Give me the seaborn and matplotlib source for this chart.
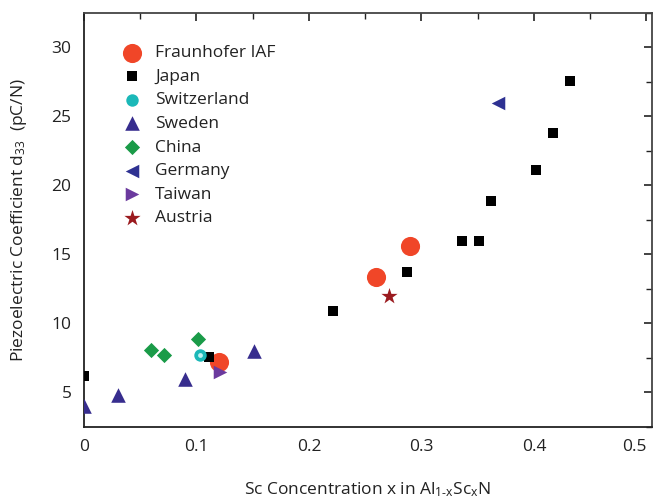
import matplotlib
matplotlib.use("Agg")
import matplotlib.pyplot as plt
import seaborn as sns
import pandas as pd
from matplotlib.ticker import MultipleLocator

sns.set_theme(style="white")
plt.rcParams['font.family'] = ['Open Sans', 'DejaVu Sans']
plt.rcParams['mathtext.default'] = 'regular'

# ---- data ----
fraunhofer_x = [0.120, 0.260, 0.290]
fraunhofer_y = [7.2, 13.35, 15.65]
japan_x = [0.0, 0.111, 0.221, 0.287, 0.336, 0.351, 0.362, 0.402, 0.417, 0.432]
japan_y = [6.2, 7.6, 10.9, 13.7, 16.0, 16.0, 18.9, 21.1, 23.8, 27.6]
switzerland_x = [0.103]
switzerland_y = [7.7]
sweden_x = [0.0, 0.030, 0.090, 0.151]
sweden_y = [4.0, 4.8, 6.0, 8.0]
china_x = [0.060, 0.071, 0.101]
china_y = [8.05, 7.75, 8.9]
germany_x = [0.368]
germany_y = [26.0]
taiwan_x = [0.121]
taiwan_y = [6.45]
austria_x = [0.271]
austria_y = [12.0]

x_ticks = [0, 0.1, 0.2, 0.3, 0.4, 0.5]
x_tick_labels = ["0", "0.1", "0.2", "0.3", "0.4", "0.5"]
y_ticks = [5, 10, 15, 20, 25, 30]

groups = [
    ("Fraunhofer IAF", fraunhofer_x, fraunhofer_y),
    ("Japan", japan_x, japan_y),
    ("Switzerland", switzerland_x, switzerland_y),
    ("Sweden", sweden_x, sweden_y),
    ("China", china_x, china_y),
    ("Germany", germany_x, germany_y),
    ("Taiwan", taiwan_x, taiwan_y),
    ("Austria", austria_x, austria_y),
]

styles = {
    "Fraunhofer IAF": dict(marker="o", color="#F04628", s=190),
    "Japan": dict(marker="s", color="#000000", s=55),
    "Switzerland": dict(marker="o", color="#1BB8B8", s=80),
    "Sweden": dict(marker="^", color="#372D8E", s=110),
    "China": dict(marker="D", color="#1A9B48", s=60),
    "Germany": dict(marker="<", color="#2E3192", s=95),
    "Taiwan": dict(marker=">", color="#6B3A9E", s=95),
    "Austria": dict(marker="*", color="#9B1B1F", s=150),
}

fig = plt.figure(figsize=(6.54, 4.99), dpi=100)
ax = fig.add_axes([0.1284, 0.1443, 0.8686, 0.8297])

for name, xs, ys in groups:
    df = pd.DataFrame({"x": xs, "y": ys})
    st = styles[name]
    sns.scatterplot(data=df, x="x", y="y", ax=ax, marker=st["marker"],
                    color=st["color"], s=st["s"], linewidth=0,
                    label=name, zorder=3)
    if name == "Switzerland":
        sns.scatterplot(data=df, x="x", y="y", ax=ax, marker="o",
                        color="#BFF2F2", s=12, linewidth=0, zorder=4,
                        legend=False)

ax.set_xlim(0, 0.505)
ax.set_ylim(2.5, 32.5)
ax.xaxis.set_minor_locator(MultipleLocator(0.05))
ax.yaxis.set_minor_locator(MultipleLocator(2.5))
ax.set_yticks(y_ticks)
ax.set_xticks(x_ticks)
ax.set_xticklabels(x_tick_labels)
ax.get_xticklabels()[-1].set_horizontalalignment("right")
ax.tick_params(which="both", direction="in", top=True, right=True,
               color="#222222", labelsize=12.5, labelcolor="#222222")
ax.tick_params(which="major", length=6, width=1.2, pad=9)
ax.tick_params(which="minor", length=4, width=1.0)

for side, sp in ax.spines.items():
    sp.set_color("#222222")
    sp.set_linewidth(1.3)
ax.spines["top"].set_color("#444444")
ax.spines["right"].set_color("#444444")

ax.set_xlabel("Sc Concentration x in Al$_{1\u2010x}$Sc$_x$N", fontsize=12.5,
              color="#222222", labelpad=18)
ax.set_ylabel("Piezoelectric Coefficient d$_{33}$  (pC/N)", fontsize=12.5,
              color="#222222", labelpad=16)

leg = ax.legend(loc="upper left", bbox_to_anchor=(0.035, 0.948), frameon=False,
                fontsize=12.5, handletextpad=0.35, labelspacing=0.43,
                borderaxespad=0.2, markerscale=1.0)
for t in leg.get_texts():
    t.set_color("#222222")

fig.savefig("out.png", dpi=100)
